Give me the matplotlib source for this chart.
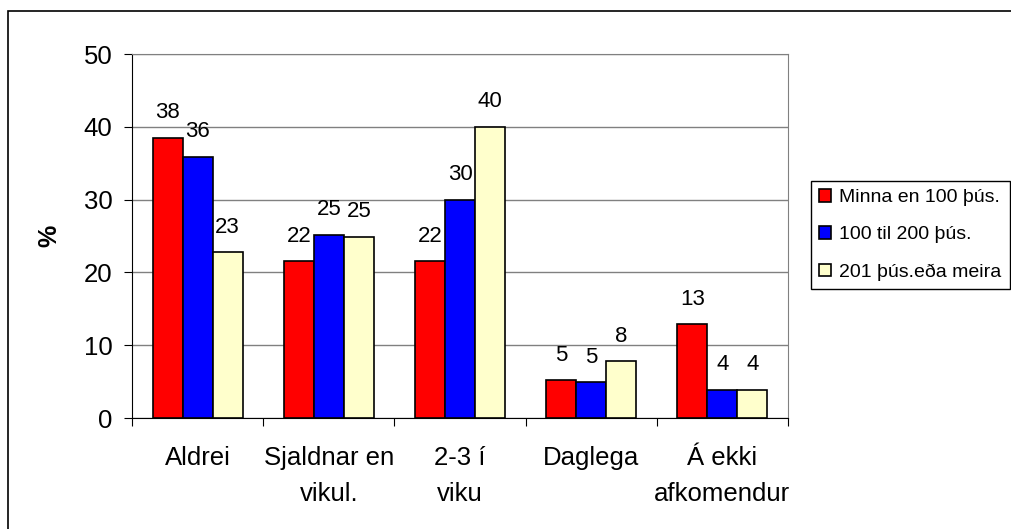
import numpy as np
import matplotlib.pyplot as plt
from matplotlib.patches import Rectangle
from matplotlib.transforms import ScaledTranslation

plt.rcParams['font.family'] = ['Liberation Sans', 'DejaVu Sans']

categories = ['Aldrei', 'Sjaldnar en\nvikul.', '2-3 í\nviku', 'Daglega', 'Á ekki\nafkomendur']
series_names = ['Minna en 100 þús.', '100 til 200 þús.', '201 þús.eða meira']
lt100 = [38.5, 21.5, 21.5, 5.2, 12.9]
mid = [35.9, 25.2, 30.0, 4.9, 3.9]
high = [22.8, 24.9, 40.0, 7.8, 3.9]
lt100_lab = ['38', '22', '22', '5', '13']
mid_lab = ['36', '25', '30', '5', '4']
high_lab = ['23', '25', '40', '8', '4']
colors = ['#ff0000', '#0000ff', '#ffffcc']

fig = plt.figure(figsize=(10.11, 5.29), dpi=100)
ax = fig.add_axes([132/1011, 1 - 418/529, 656/1011, 364/529])

x = np.arange(len(categories)) + 0.5
w = 0.229
series = [(lt100, lt100_lab), (mid, mid_lab), (high, high_lab)]
for k, (vals, labs) in enumerate(series):
    pos = x + (k - 1) * w
    ax.bar(pos, vals, width=w, color=colors[k], edgecolor='black', linewidth=1.2,
           label=series_names[k], zorder=3)
    for px, v, lab in zip(pos, vals, labs):
        ax.annotate(lab, (px, v), xytext=(0, 14), textcoords='offset points',
                    ha='center', va='baseline', fontsize=16)

ax.set_xlim(0, 5)
ax.set_ylim(0, 50)
ax.set_yticks([0, 10, 20, 30, 40, 50])
ax.tick_params(axis='y', labelsize=18.5, length=6, direction='out', pad=8)
ax.set_xticks(range(6))
ax.set_xticklabels([])
ax.tick_params(axis='x', which='major', length=6, direction='out')
# category labels: write line by line so first baselines line up
for cx, cat in zip(x, categories):
    for j, line in enumerate(cat.split('\n')):
        tr = ax.get_xaxis_transform() + ScaledTranslation(0, -(47 + 36 * j) / 100, fig.dpi_scale_trans)
        ax.text(cx, 0, line, transform=tr, ha='center', va='baseline', fontsize=18.5)
ax.grid(axis='y', color='#808080', linewidth=1, zorder=0)
for s in ['top', 'right']:
    ax.spines[s].set_color('#808080')
ax.set_ylabel('%', fontsize=18, fontweight='bold')
ax.yaxis.set_label_coords(-0.107, 0.5)

fig.legend(loc='upper left', bbox_to_anchor=(810.5/1011, 1 - 180.5/529), fontsize=14,
           fancybox=False, framealpha=1, edgecolor='black', borderaxespad=0,
           handlelength=0.62, handleheight=0.6, handletextpad=0.4, labelspacing=1.03,
           borderpad=0.45)

fig.patches.append(Rectangle((8/1011, -0.1), 1.2, 1 - 11/529 + 0.1, transform=fig.transFigure,
                             fill=False, edgecolor='black', linewidth=1.2))

fig.savefig('out.png', dpi=100)
